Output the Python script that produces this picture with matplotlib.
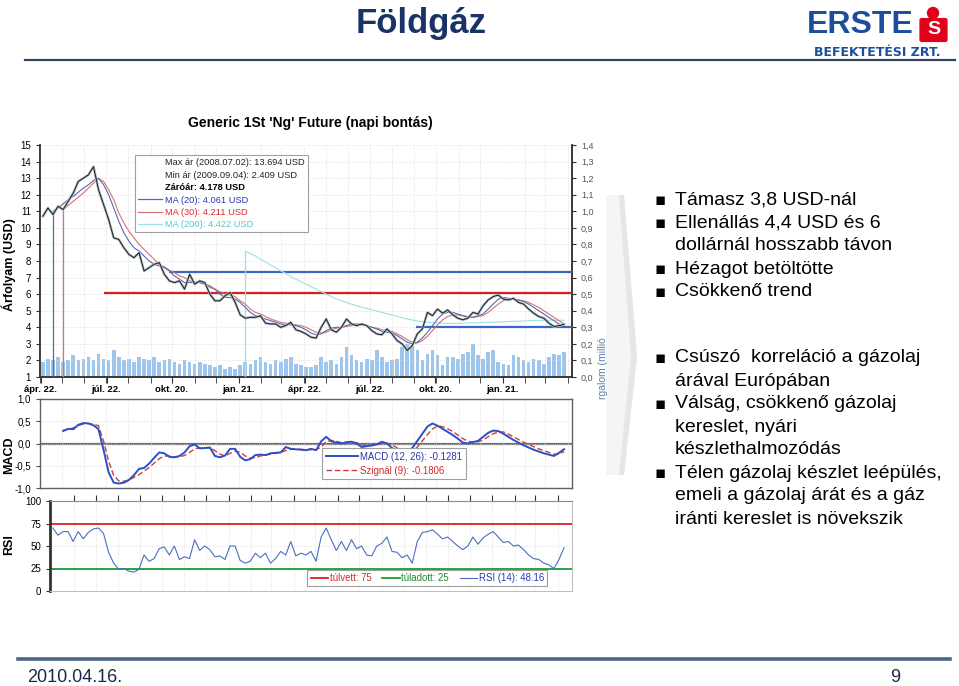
import matplotlib
matplotlib.use('Agg')
import matplotlib.dates as mdates
import matplotlib.pyplot as plt
import numpy as np
import pandas as pd
from matplotlib.lines import Line2D
from matplotlib.patches import Ellipse, FancyBboxPatch, Polygon

plt.rcParams['font.family'] = ['Liberation Sans', 'DejaVu Sans']

# Weekly closes of the front month contract, last week ends 2010.04.16.
LAST_WEEK = '2010-04-16'
N_WEEKS = 104

price = [10.7, 11.2, 10.8, 11.3, 11.1, 11.6, 12.1, 12.8, 13.0, 13.2,
         13.69, 12.3, 11.4, 10.5, 9.4, 9.3, 8.8, 8.4, 8.2, 8.5,
         7.4, 7.6, 7.8, 7.9, 7.2, 6.8, 6.7, 6.8, 6.3, 7.2,
         6.6, 6.8, 6.7, 6.0, 5.6, 5.6, 5.9, 6.1, 5.5, 4.75,
         4.55, 4.6, 4.6, 4.7, 4.25, 4.2, 4.2, 4.0, 4.1, 4.3,
         3.85, 3.75, 3.6, 3.4, 3.35, 4.0, 4.5, 3.85, 3.7, 4.0,
         4.5, 4.2, 4.1, 4.2, 4.1, 3.8, 3.6, 3.55, 3.9, 3.6,
         3.2, 3.0, 2.6, 2.9, 3.6, 3.9, 4.9, 4.7, 5.1, 4.85,
         5.05, 4.75, 4.55, 4.45, 4.55, 4.9, 4.8, 5.3, 5.65, 5.85,
         5.95, 5.7, 5.65, 5.75, 5.5, 5.4, 5.1, 4.85, 4.65, 4.55,
         4.25, 4.05, 4.1, 4.178]

ma20 = [None, None, 11.0, 11.2, 11.45, 11.7, 11.9, 12.15, 12.4, 12.6,
        12.85, 13.0, 12.6, 12.0, 11.2, 10.4, 9.7, 9.2, 8.8, 8.6,
        8.3, 8.0, 7.8, 7.7, 7.6, 7.4, 7.1, 6.9, 6.7, 6.7,
        6.7, 6.7, 6.6, 6.5, 6.3, 6.0, 5.8, 5.8, 5.7, 5.5,
        5.2, 4.9, 4.7, 4.6, 4.5, 4.4, 4.3, 4.2, 4.15, 4.15,
        4.1, 4.0, 3.85, 3.65, 3.55, 3.6, 3.8, 3.95, 4.0, 4.0,
        4.1, 4.2, 4.2, 4.15, 4.1, 4.0, 3.9, 3.75, 3.7, 3.65,
        3.5, 3.3, 3.1, 3.0, 3.1, 3.35, 3.7, 4.1, 4.5, 4.8,
        4.9, 4.9, 4.8, 4.7, 4.6, 4.6, 4.7, 4.8, 5.1, 5.4,
        5.7, 5.8, 5.75, 5.7, 5.65, 5.55, 5.4, 5.2, 5.0, 4.8,
        4.6, 4.4, 4.2, 4.061]

ma30 = [None, None, None, None, 11.1, 11.35, 11.6, 11.85, 12.1, 12.4,
        12.7, 12.95, 12.8, 12.3, 11.7, 10.9, 10.3, 9.8, 9.4, 9.0,
        8.7, 8.4, 8.1, 7.8, 7.65, 7.45, 7.3, 7.1, 7.0, 6.8,
        6.75, 6.7, 6.6, 6.4, 6.3, 6.15, 6.0, 5.95, 5.85, 5.6,
        5.4, 5.1, 4.9, 4.8, 4.65, 4.5, 4.4, 4.3, 4.25, 4.2,
        4.15, 4.1, 4.0, 3.85, 3.7, 3.65, 3.7, 3.85, 3.95, 4.0,
        4.05, 4.1, 4.15, 4.15, 4.1, 4.0, 3.95, 3.85, 3.8, 3.75,
        3.6, 3.45, 3.25, 3.1, 3.05, 3.2, 3.45, 3.8, 4.15, 4.45,
        4.65, 4.75, 4.75, 4.7, 4.65, 4.6, 4.65, 4.7, 4.9, 5.15,
        5.4, 5.6, 5.7, 5.7, 5.65, 5.6, 5.5, 5.35, 5.2, 5.0,
        4.8, 4.6, 4.4, 4.211]

ma200 = [None] * 40 + [
    8.6, 8.45, 8.3, 8.1, 7.95, 7.75, 7.6, 7.4, 7.25, 7.05,
    6.9, 6.75, 6.6, 6.45, 6.3, 6.15, 6.0, 5.85, 5.72, 5.6,
    5.5, 5.4, 5.3, 5.22, 5.14, 5.06, 4.98, 4.9, 4.82, 4.74,
    4.66, 4.58, 4.5, 4.44, 4.38, 4.33, 4.3, 4.28, 4.26, 4.25,
    4.24, 4.24, 4.24, 4.25, 4.26, 4.27, 4.28, 4.29, 4.3, 4.31,
    4.32, 4.33, 4.35, 4.36, 4.37, 4.38, 4.4, 4.41, 4.42, 4.43,
    4.43, 4.43, 4.42, 4.422]

# traded volume, million contracts (right axis)
volume = [0.09, 0.11, 0.10, 0.12, 0.09, 0.10, 0.13, 0.10, 0.11, 0.12,
          0.10, 0.14, 0.11, 0.10, 0.16, 0.12, 0.10, 0.11, 0.09, 0.12,
          0.11, 0.10, 0.12, 0.09, 0.10, 0.11, 0.09, 0.08, 0.10, 0.09,
          0.08, 0.09, 0.08, 0.07, 0.06, 0.07, 0.05, 0.06, 0.05, 0.07,
          0.09, 0.08, 0.10, 0.12, 0.09, 0.08, 0.10, 0.09, 0.11, 0.12,
          0.08, 0.07, 0.06, 0.06, 0.07, 0.12, 0.09, 0.10, 0.08, 0.12,
          0.18, 0.13, 0.10, 0.09, 0.11, 0.10, 0.16, 0.12, 0.09, 0.10,
          0.11, 0.18, 0.20, 0.19, 0.16, 0.10, 0.14, 0.16, 0.13, 0.07,
          0.12, 0.12, 0.11, 0.14, 0.15, 0.20, 0.13, 0.11, 0.15, 0.16,
          0.09, 0.08, 0.07, 0.13, 0.12, 0.10, 0.09, 0.11, 0.10, 0.08,
          0.12, 0.14, 0.13, 0.15]

macd = [None, None, None, None, 0.28, 0.33, 0.32, 0.42, 0.46, 0.45,
        0.41, 0.32, -0.15, -0.65, -0.88, -0.90, -0.88, -0.82, -0.71, -0.57,
        -0.55, -0.45, -0.32, -0.20, -0.22, -0.30, -0.31, -0.28, -0.20, -0.06,
        -0.02, -0.11, -0.10, -0.09, -0.28, -0.31, -0.27, -0.12, -0.12, -0.30,
        -0.38, -0.35, -0.26, -0.25, -0.26, -0.22, -0.21, -0.20, -0.08, -0.12,
        -0.13, -0.14, -0.15, -0.12, -0.15, 0.05, 0.15, 0.05, 0.02, 0.00,
        0.03, 0.04, 0.00, -0.08, -0.06, -0.04, -0.02, 0.04, 0.00, -0.10,
        -0.18, -0.22, -0.20, -0.10, 0.06, 0.22, 0.38, 0.45, 0.40, 0.33,
        0.26, 0.19, 0.11, 0.02, 0.00, 0.03, 0.06, 0.15, 0.24, 0.29,
        0.28, 0.22, 0.15, 0.08, 0.02, -0.04, -0.09, -0.14, -0.18, -0.22,
        -0.25, -0.28, -0.21, -0.1281]

signal = [None, None, None, None, 0.30, 0.32, 0.35, 0.40, 0.44, 0.45,
          0.43, 0.40, 0.05, -0.40, -0.72, -0.84, -0.85, -0.82, -0.76, -0.70,
          -0.62, -0.54, -0.44, -0.34, -0.28, -0.28, -0.30, -0.30, -0.27, -0.20,
          -0.12, -0.10, -0.10, -0.10, -0.16, -0.24, -0.28, -0.22, -0.17, -0.20,
          -0.28, -0.33, -0.32, -0.28, -0.26, -0.24, -0.22, -0.20, -0.16, -0.13,
          -0.13, -0.13, -0.14, -0.14, -0.14, -0.08, 0.04, 0.07, 0.05, 0.02,
          0.02, 0.03, 0.02, -0.03, -0.05, -0.05, -0.03, 0.00, 0.01, -0.03,
          -0.10, -0.16, -0.19, -0.17, -0.08, 0.06, 0.20, 0.33, 0.39, 0.38,
          0.33, 0.27, 0.19, 0.11, 0.05, 0.03, 0.04, 0.08, 0.15, 0.22,
          0.26, 0.26, 0.21, 0.15, 0.09, 0.03, -0.02, -0.07, -0.12, -0.16,
          -0.20, -0.24, -0.24, -0.1806]

rsi = [None, None, 70, 62, 66, 66, 55, 66, 58, 65,
       69, 70, 64, 43, 31, 24, 25, 22, 21, 24,
       40, 33, 36, 47, 49, 40, 50, 35, 38, 36,
       57, 45, 50, 46, 38, 39, 35, 50, 50, 34,
       31, 33, 42, 37, 42, 31, 36, 44, 40, 55,
       39, 42, 40, 44, 33, 60, 70, 57, 45, 55,
       45, 57, 47, 50, 40, 39, 50, 53, 60, 44,
       43, 37, 40, 31, 55, 65, 66, 68, 63, 58,
       60, 55, 50, 46, 50, 60, 52, 59, 63, 66,
       60, 54, 55, 50, 51, 46, 40, 36, 35, 31,
       29, 25, 35, 48.16]

# support / resistance levels (USD) and the day they are drawn from
levels = [7.35, 6.07, 4.02]
level_start = ['2008-10-17', '2008-07-19', '2009-09-23']
level_colors = ['#3a66c8', '#d42020', '#3a66c8']

overbought = 75
oversold = 25

tick_dates = ['2008-04-22', '2008-07-22', '2008-10-20', '2009-01-21',
              '2009-04-22', '2009-07-22', '2009-10-20', '2010-01-21']
tick_labels = ['ápr. 22.', 'júl. 22.', 'okt. 20.', 'jan. 21.',
               'ápr. 22.', 'júl. 22.', 'okt. 20.', 'jan. 21.']

price_legend = ['Max ár (2008.07.02): 13.694 USD',
                'Min ár (2009.09.04): 2.409 USD',
                'Záróár: 4.178 USD',
                'MA (20): 4.061 USD',
                'MA (30): 4.211 USD',
                'MA (200): 4.422 USD']
macd_legend = ['MACD (12, 26): -0.1281', 'Szignál (9): -0.1806']
rsi_legend = ['túlvett: 75', 'túladott: 25', 'RSI (14): 48.16']

bullets_top = [['Támasz 3,8 USD-nál'],
               ['Ellenállás 4,4 USD és 6', 'dollárnál hosszabb távon'],
               ['Hézagot betöltötte'],
               ['Csökkenő trend']]
bullets_bottom = [['Csúszó  korreláció a gázolaj', 'árával Európában'],
                  ['Válság, csökkenő gázolaj', 'kereslet, nyári',
                   'készlethalmozódás'],
                  ['Télen gázolaj készlet leépülés,',
                   'emeli a gázolaj árát és a gáz',
                   'iránti kereslet is növekszik']]

W, H = 959, 686
NAVY = '#1b3266'
PRICE_COLOR = '#1e2b33'
MA20_COLOR = '#5a68b0'
MA30_COLOR = '#d47272'
MA200_COLOR = '#9fe0e0'
VOL_COLOR = '#9cc6ee'
MACD_COLOR = '#2a4fc8'
SIGNAL_COLOR = '#d23c3c'
RSI_COLOR = '#4a6fc0'
GRID = dict(color='#d8d8d8', linestyle=':', linewidth=0.6)


def fx(x):
    return x / W


def fy(y):
    return 1 - y / H


def comma(v, digits=1):
    s = f'{v:.{digits}f}'.replace('.', ',')
    return '0,0' if s == '-0,0' else s


def series(values):
    return np.array([np.nan if v is None else v for v in values], dtype=float)


def first_valid(values):
    return next(i for i, v in enumerate(values) if v is not None)


def draw_price(fig, dates, xlim):
    ax = fig.add_axes([fx(40), fy(377), fx(532), 232 / H])
    ax_vol = ax.twinx()
    ax.set_zorder(ax_vol.get_zorder() + 1)
    ax.patch.set_visible(False)

    # volume bars on the right hand scale
    ax_vol.bar(dates, volume, width=5.0, color=VOL_COLOR, linewidth=0)
    ax_vol.set_ylim(0, 1.4)
    ax_vol.set_yticks(np.arange(0, 1.41, 0.1))
    ax_vol.set_yticklabels([comma(v) for v in np.arange(0, 1.41, 0.1)],
                           fontsize=6.5, color='#555555')

    # support / resistance
    for lvl, start, col in zip(levels, level_start, level_colors):
        ax.hlines(lvl, pd.Timestamp(start), xlim[1], color=col, lw=1.6, zorder=3)

    # moving averages, each starts with a vertical stroke from the axis
    for vals, col in [(ma200, MA200_COLOR), (ma30, MA30_COLOR), (ma20, MA20_COLOR)]:
        i0 = first_valid(vals)
        ax.vlines(dates[i0], 1, vals[i0], color=col, lw=0.9, zorder=4)
        ax.plot(dates, series(vals), color=col, lw=0.8, zorder=4)

    # closing price with a light halo, like the bar chart of the original
    ax.plot(dates, price, color='#bcc4c6', lw=1.9, zorder=5)
    ax.plot(dates, price, color=PRICE_COLOR, lw=0.8, zorder=6)

    ax.set_xlim(xlim)
    ax.set_ylim(1, 15)
    ax.set_yticks(range(1, 16))
    ax.tick_params(axis='y', labelsize=7, length=3, color='#333333')
    ax.xaxis.set_major_locator(plt.FixedLocator(mdates.date2num(pd.to_datetime(tick_dates))))
    ax.xaxis.set_major_formatter(plt.FixedFormatter(tick_labels))
    ax.xaxis.set_minor_locator(mdates.MonthLocator(bymonthday=21))
    ax.tick_params(axis='x', which='both', length=4, color='#333333', pad=2)
    for lab in ax.get_xticklabels():
        lab.set_fontsize(6.8)
        lab.set_fontweight('bold')
    ax.grid(axis='y', **GRID)
    ax.grid(axis='x', which='minor', **GRID)

    for a in (ax, ax_vol):
        a.spines['top'].set_visible(False)
        for side in ('left', 'bottom', 'right'):
            a.spines[side].set_color('#333333')
            a.spines[side].set_linewidth(1.1)
    ax_vol.tick_params(axis='y', length=3, color='#333333')

    handles = [Line2D([], [], color='none')] * 3 + [
        Line2D([], [], color=MA20_COLOR, lw=0.9),
        Line2D([], [], color=MA30_COLOR, lw=0.9),
        Line2D([], [], color=MA200_COLOR, lw=0.9)]
    leg = ax.legend(handles, price_legend, loc='upper left',
                    bbox_to_anchor=(0.169, 0.976), fontsize=6.7,
                    handlelength=2.6, handletextpad=0.3, labelspacing=0.36,
                    borderpad=0.35, fancybox=False, framealpha=1,
                    edgecolor='#a0a0a0')
    leg.get_frame().set_linewidth(0.8)
    text_colors = ['#222222', '#222222', '#000000', '#2b36a8', '#e02828', '#55c8c8']
    for t, c in zip(leg.get_texts(), text_colors):
        t.set_color(c)
    leg.get_texts()[2].set_fontweight('bold')
    leg.set_zorder(10)

    ax.set_title("Generic 1St 'Ng' Future (napi bontás)", fontsize=10,
                 fontweight='bold', pad=13, x=0.508)
    return ax


def draw_macd(fig, dates, xlim):
    ax = fig.add_axes([fx(40), fy(488), fx(532), 89 / H])
    ax.axhline(0, color='#707070', lw=1.6, zorder=1)
    ax.plot(dates, series(signal), color=SIGNAL_COLOR, lw=1.0,
            linestyle=(0, (4, 2)), zorder=3)
    ax.plot(dates, series(macd), color=MACD_COLOR, lw=1.4, zorder=4)

    ax.set_xlim(xlim)
    ax.set_ylim(-1, 1)
    ticks = [-1, -0.5, 0, 0.5, 1]
    ax.set_yticks(ticks)
    ax.set_yticklabels([comma(v) for v in ticks], fontsize=7)
    ax.set_xticks([])
    ax.xaxis.set_minor_locator(mdates.MonthLocator(bymonthday=21))
    ax.tick_params(axis='x', which='minor', length=0)
    ax.tick_params(axis='y', length=3, color='#555555')
    ax.grid(axis='y', **GRID)
    ax.grid(axis='x', which='minor', **GRID)
    for s in ax.spines.values():
        s.set_color('#606060')
        s.set_linewidth(1.0)

    handles = [Line2D([], [], color=MACD_COLOR, lw=1.4),
               Line2D([], [], color=SIGNAL_COLOR, lw=1.0, linestyle=(0, (4, 2)))]
    leg = ax.legend(handles, macd_legend, loc='lower left',
                    bbox_to_anchor=(0.522, 0.045), fontsize=6.9,
                    handlelength=3.4, handletextpad=0.2, labelspacing=0.45,
                    borderpad=0.35, fancybox=False, framealpha=1,
                    edgecolor='#a0a0a0')
    leg.get_frame().set_linewidth(0.8)
    for t, c in zip(leg.get_texts(), ['#2b36a8', '#d02828']):
        t.set_color(c)
    return ax


def draw_rsi(fig, dates, xlim):
    ax = fig.add_axes([fx(50), fy(591), fx(522), 90 / H])
    ax.axhline(overbought, color='#e02020', lw=1.3, zorder=2)
    ax.axhline(oversold, color='#1c9a30', lw=1.3, zorder=2)
    ax.plot(dates, series(rsi), color=RSI_COLOR, lw=0.8, zorder=3)

    ax.set_xlim(pd.Timestamp('2008-05-05'), xlim[1])
    ax.set_ylim(0, 100)
    ax.set_yticks([0, 25, 50, 75, 100])
    ax.tick_params(axis='y', labelsize=7, length=3, color='#333333')
    ax.xaxis.set_ticks_position('top')
    ax.set_xticks(mdates.date2num(pd.date_range('2008-05-07', '2010-04-07', freq='MS')
                                  + pd.Timedelta(days=6)))
    ax.tick_params(axis='x', length=4, color='#333333', labeltop=False, labelbottom=False)
    ax.grid(axis='y', **GRID)
    ax.grid(axis='x', **GRID)
    ax.spines['left'].set_color('#333333')
    ax.spines['left'].set_linewidth(2.0)
    ax.spines['top'].set_color('#8a8a8a')
    for side in ('right', 'bottom'):
        ax.spines[side].set_color('#c0c0c0')

    handles = [Line2D([], [], color='#e02020', lw=1.3),
               Line2D([], [], color='#1c9a30', lw=1.3),
               Line2D([], [], color=RSI_COLOR, lw=0.8)]
    leg = ax.legend(handles, rsi_legend, loc='lower right',
                    bbox_to_anchor=(0.962, 0.0), ncol=3, fontsize=6.9,
                    handlelength=1.8, handletextpad=0.2, columnspacing=1.1,
                    borderpad=0.35, fancybox=False, framealpha=1,
                    edgecolor='#a0a0a0')
    leg.get_frame().set_linewidth(0.8)
    for t, c in zip(leg.get_texts(), ['#d02828', '#1c8a30', '#2b36a8']):
        t.set_color(c)
    return ax


def draw_slide(fig):
    # header: title, logo and rule
    fig.text(fx(421), fy(33), 'Földgáz', fontsize=25, fontweight='bold',
             color=NAVY, ha='center', va='baseline')
    fig.text(fx(807), fy(25), 'ERSTE', fontsize=23, fontweight='bold',
             color='#1d4e9e', ha='left', va='center')
    fig.add_artist(Ellipse((fx(933), fy(13)), 11 / W, 11 / H,
                           transform=fig.transFigure, color='#e2001a'))
    fig.add_artist(FancyBboxPatch((fx(922), fy(40)), 23 / W, 20 / H,
                                  boxstyle='round,pad=0.002',
                                  transform=fig.transFigure, color='#e2001a'))
    fig.text(fx(933.5), fy(30), 'S', fontsize=14, fontweight='bold',
             color='white', ha='center', va='center')
    fig.text(fx(877), fy(53), 'BEFEKTETÉSI ZRT.', fontsize=9,
             fontweight='bold', family='DejaVu Sans', color='#1d4e9e',
             ha='center', va='center')
    fig.add_artist(Line2D([fx(25), fx(955)], [fy(60), fy(60)],
                          transform=fig.transFigure, color='#34465e', lw=1.6))

    # footer
    fig.add_artist(Line2D([fx(18), fx(950)], [fy(659), fy(659)],
                          transform=fig.transFigure, color='#4d6587', lw=2.6))
    fig.text(fx(27), fy(677), '2010.04.16.', fontsize=13, color='#1b2a4a',
             ha='left', va='center')
    fig.text(fx(900), fy(677), '9', fontsize=13, color='#1b2a4a',
             ha='right', va='center')

    # axis titles on the left
    fig.text(fx(9), fy(265), 'Árfolyam (USD)', rotation=90, fontsize=9,
             fontweight='bold', ha='center', va='center')
    fig.text(fx(9), fy(455), 'MACD', rotation=90, fontsize=9,
             fontweight='bold', ha='center', va='center')
    fig.text(fx(9), fy(545), 'RSI', rotation=90, fontsize=9,
             fontweight='bold', ha='center', va='center')

    # shaded divider between chart and text
    shade = [(fx(x), fy(y)) for x, y in
             [(606, 195), (624, 195), (637, 357), (624, 475), (606, 475)]]
    fig.add_artist(Polygon(shade, closed=True, transform=fig.transFigure,
                           facecolor='#f5f5f5', edgecolor='none', zorder=0))
    edge = [(fx(x), fy(y)) for x, y in
            [(619, 195), (624, 195), (637, 357), (624, 475), (619, 475), (631, 357)]]
    fig.add_artist(Polygon(edge, closed=True, transform=fig.transFigure,
                           facecolor='#e6e6e6', edgecolor='none', zorder=0))
    fig.text(fx(603), fy(368), 'rgalom (millió', rotation=90, fontsize=7.5,
             color='#5a80b0', ha='center', va='center')

    # bullet points
    for groups, y0 in [(bullets_top, 200), (bullets_bottom, 358)]:
        y = y0
        for lines in groups:
            fig.text(fx(660), fy(y), '▪', fontsize=12, family='DejaVu Sans',
                     ha='center', va='center')
            for line in lines:
                fig.text(fx(675), fy(y), line, fontsize=14, ha='left', va='center')
                y += 23


def main():
    # Weekly date index ending on the slide's date
    dates = pd.date_range(end=LAST_WEEK, periods=N_WEEKS, freq='7D')
    xlim = (pd.Timestamp('2008-04-21'), pd.Timestamp('2010-04-27'))

    fig = plt.figure(figsize=(W / 100, H / 100), dpi=100)
    draw_price(fig, dates, xlim)
    draw_macd(fig, dates, xlim)
    draw_rsi(fig, dates, xlim)
    draw_slide(fig)

    fig.savefig('out.png', dpi=100)


if __name__ == '__main__':
    main()
